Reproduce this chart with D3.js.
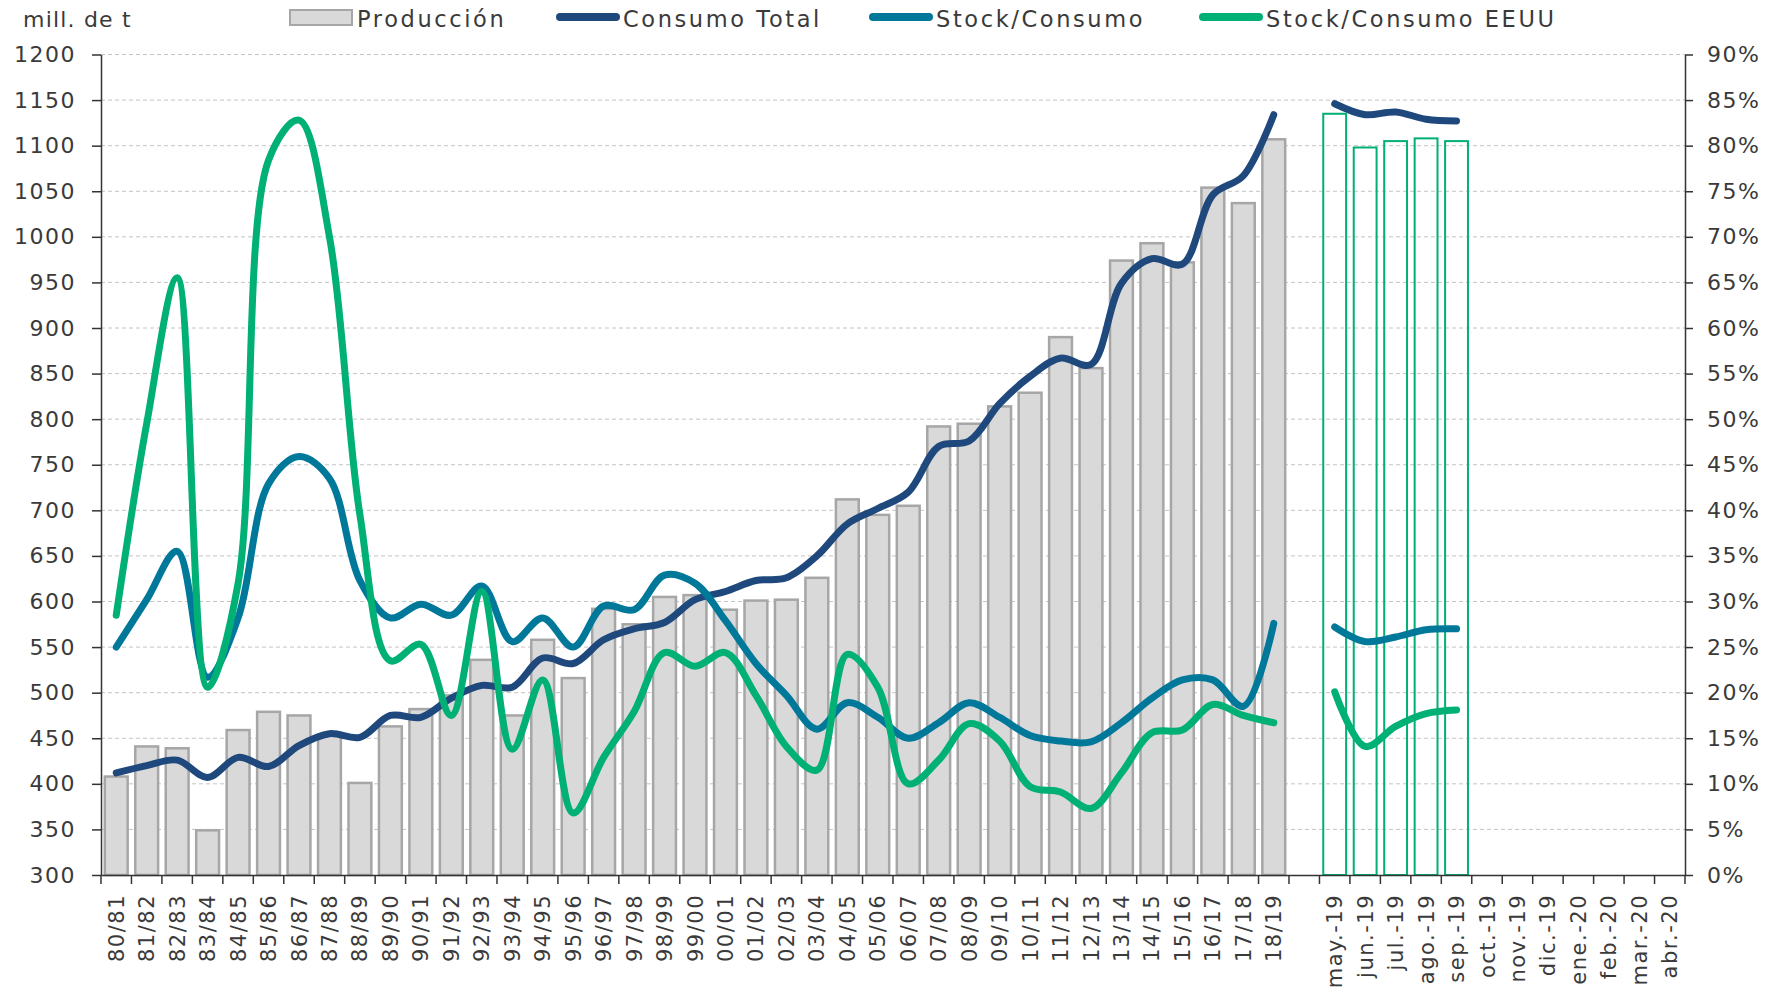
<!DOCTYPE html>
<html>
<head>
<meta charset="utf-8">
<script src="https://cdn.jsdelivr.net/npm/d3@7"></script>
<style>
  body { margin: 0; background: #fff; }
  svg text { font-family: "DejaVu Sans", sans-serif; fill: #3a3a3a; }
</style>
</head>
<body>
<div id="chart"></div>
<script>
// campañas y meses del eje x
const seasons = ["80/81","81/82","82/83","83/84","84/85","85/86","86/87","87/88","88/89","89/90",
  "90/91","91/92","92/93","93/94","94/95","95/96","96/97","97/98","98/99","99/00",
  "00/01","01/02","02/03","03/04","04/05","05/06","06/07","07/08","08/09","09/10",
  "10/11","11/12","12/13","13/14","14/15","15/16","16/17","17/18","18/19"];
const months = ["may.-19","jun.-19","jul.-19","ago.-19","sep.-19","oct.-19","nov.-19",
  "dic.-19","ene.-20","feb.-20","mar.-20","abr.-20"];

// mill. de t
const produccion = [408,441,439,349,459,479,475,453,401,463,482,497,536,475,558,516,592,575,605,607,
  591,601,602,626,712,695,705,792,795,814,829,890,856,974,993,972,1054,1037,1107];
const consumoTotal = [412,420,426,407,429,419,442,455,451,475,473,494,508,506,538,532,558,570,577,602,
  611,623,626,650,685,702,720,770,776,817,847,867,860,949,976,970,1046,1067,1134];
// %
const stockConsumo = [25.0,30.2,35.5,21.7,28.2,42.9,45.9,43.5,32.3,28.2,29.7,28.5,31.7,25.6,28.2,25.0,29.5,29.1,32.9,32.0,
  27.9,23.2,19.7,16.0,18.9,17.3,15.0,16.7,18.9,17.3,15.3,14.7,14.6,16.7,19.4,21.4,21.4,18.5,27.6];
const stockConsumoEEUU = [28.5,49.5,65.5,20.6,32.0,78.4,82.8,70.0,39.5,23.5,25.3,17.5,31.1,13.8,21.4,6.8,12.9,17.9,24.4,22.9,
  24.4,19.7,14.1,11.5,24.2,20.6,10.0,12.6,16.6,14.7,9.7,9.1,7.3,11.2,15.6,15.9,18.7,17.5,16.7];

// estimaciones mensuales 2019/20
const prodMensual = [1135,1098,1105,1108,1105];
const consumoMensual = [1146,1134,1137,1129,1127];
const stockMensual = [27.2,25.6,26.1,26.9,27.0];
const stockEEUUMensual = [20.1,14.1,16.3,17.7,18.1];

const leftTicks = d3.range(300, 1201, 50);
const rightTicks = d3.range(0, 91, 5);

const W = 1770, H = 993;
const plot = {left: 101, right: 1685, top: 54.5, bottom: 875};
const colors = {prod: "#d9d9d9", prodLine: "#a6a6a6", consumo: "#1f497d", stock: "#00789a", eeuu: "#00b074"};

const categories = seasons.concat([""], months);

const svg = d3.select("#chart").append("svg")
  .attr("width", W).attr("height", H);

const x = d3.scaleBand()
  .domain(categories)
  .range([plot.left, plot.right])
  .paddingInner(0.25)
  .paddingOuter(0.125);

const yL = d3.scaleLinear().domain([300, 1200]).range([plot.bottom, plot.top]);
const yR = d3.scaleLinear().domain([0, 90]).range([plot.bottom, plot.top]);

const cx = d => x(d) + x.bandwidth() / 2;

// gridlines
svg.append("g")
  .selectAll("line")
  .data(leftTicks.slice(1))
  .enter().append("line")
  .attr("x1", plot.left).attr("x2", plot.right)
  .attr("y1", d => yL(d)).attr("y2", d => yL(d))
  .attr("stroke", "#c4c4c4")
  .attr("stroke-width", 1)
  .attr("stroke-dasharray", "4,3");

// barras producción
svg.append("g")
  .selectAll("rect")
  .data(seasons.map((s, i) => ({cat: s, v: produccion[i]})))
  .enter().append("rect")
  .attr("x", d => x(d.cat))
  .attr("y", d => yL(d.v))
  .attr("width", x.bandwidth())
  .attr("height", d => plot.bottom - yL(d.v))
  .attr("fill", colors.prod)
  .attr("stroke", colors.prodLine)
  .attr("stroke-width", 2.5);

svg.append("g")
  .selectAll("rect")
  .data(prodMensual.map((v, i) => ({cat: months[i], v: v})))
  .enter().append("rect")
  .attr("x", d => x(d.cat))
  .attr("y", d => yL(d.v))
  .attr("width", x.bandwidth())
  .attr("height", d => plot.bottom - yL(d.v))
  .attr("fill", "none")
  .attr("stroke", colors.eeuu)
  .attr("stroke-width", 2);

// lineas
function drawLine(cats, vals, scale, color) {
  const line = d3.line()
    .x((d, i) => cx(cats[i]))
    .y(d => scale(d))
    .curve(d3.curveCatmullRom);
  svg.append("path")
    .datum(vals)
    .attr("d", line)
    .attr("fill", "none")
    .attr("stroke", color)
    .attr("stroke-width", 7)
    .attr("stroke-linecap", "round")
    .attr("stroke-linejoin", "round");
}

const mSel = months.slice(0, 5);
drawLine(seasons, consumoTotal, yL, colors.consumo);
drawLine(mSel, consumoMensual, yL, colors.consumo);
drawLine(seasons, stockConsumo, yR, colors.stock);
drawLine(mSel, stockMensual, yR, colors.stock);
drawLine(seasons, stockConsumoEEUU, yR, colors.eeuu);
drawLine(mSel, stockEEUUMensual, yR, colors.eeuu);

// ejes
const axisL = svg.append("g")
  .attr("transform", "translate(" + plot.left + ",0)")
  .call(d3.axisLeft(yL).tickValues(leftTicks).tickSize(9).tickSizeOuter(0).tickPadding(16)
    .tickFormat(d => String(d)));

const axisR = svg.append("g")
  .attr("transform", "translate(" + plot.right + ",0)")
  .call(d3.axisRight(yR).tickValues(rightTicks).tickSize(8).tickSizeOuter(0).tickPadding(14)
    .tickFormat(d => d + "%"));

const axisB = svg.append("g")
  .attr("transform", "translate(0," + plot.bottom + ")")
  .call(d3.axisBottom(x).tickSize(0).tickSizeOuter(0));

axisB.selectAll("text")
  .attr("transform", "rotate(-90)")
  .attr("x", -19)
  .attr("y", 0)
  .attr("dy", "0.36em")
  .style("text-anchor", "end")
  .style("font-size", "21px")
  .style("letter-spacing", "1.5px");

// marcas entre categorias
const step = x.step();
axisB.selectAll(".sep")
  .data(categories.concat(["end"]))
  .enter().append("line")
  .attr("class", "sep")
  .attr("x1", (d, i) => plot.left + i * step)
  .attr("x2", (d, i) => plot.left + i * step)
  .attr("y1", 0).attr("y2", 9)
  .attr("stroke", "#333").attr("stroke-width", 1.5);

[axisL, axisR, axisB].forEach(a => {
  a.select(".domain").attr("stroke", "#333").attr("stroke-width", 1.5);
  a.selectAll(".tick line").attr("stroke", "#333").attr("stroke-width", 1.5);
});
[axisL, axisR].forEach(a => {
  a.selectAll("text")
    .style("font-size", "22px")
    .style("letter-spacing", "1.5px")
    .attr("fill", "#3a3a3a");
});
axisB.selectAll("text").attr("fill", "#3a3a3a");

// titulo eje y leyenda
svg.append("text")
  .attr("x", 23).attr("y", 27)
  .style("font-size", "22px")
  .style("letter-spacing", "1.2px")
  .text("mill. de t");

const legend = [
  {label: "Producción", color: colors.prod, type: "bar", x: 290},
  {label: "Consumo Total", color: colors.consumo, type: "line", x: 556},
  {label: "Stock/Consumo", color: colors.stock, type: "line", x: 869},
  {label: "Stock/Consumo EEUU", color: colors.eeuu, type: "line", x: 1199}
];

const lg = svg.append("g").selectAll("g")
  .data(legend)
  .enter().append("g");

lg.filter(d => d.type === "bar").append("rect")
  .attr("x", d => d.x).attr("y", 10)
  .attr("width", 62).attr("height", 15)
  .attr("fill", colors.prod)
  .attr("stroke", colors.prodLine)
  .attr("stroke-width", 2);

lg.filter(d => d.type === "line").append("line")
  .attr("x1", d => d.x + 4).attr("x2", d => d.x + 60)
  .attr("y1", 17).attr("y2", 17)
  .attr("stroke", d => d.color)
  .attr("stroke-width", 8)
  .attr("stroke-linecap", "round");

lg.append("text")
  .attr("x", d => d.x + 67)
  .attr("y", 27)
  .style("font-size", "22.5px")
  .style("letter-spacing", "2.6px")
  .text(d => d.label);
</script>
</body>
</html>
